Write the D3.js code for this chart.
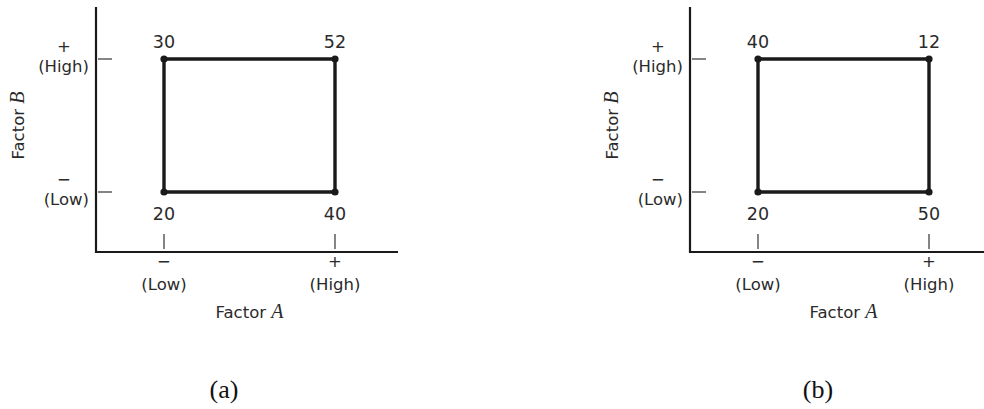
<!DOCTYPE html>
<html>
<head>
<meta charset="utf-8">
<script src="https://cdn.jsdelivr.net/npm/d3@7"></script>
<style>
  body { margin: 0; background: #fff; }
  svg { display: block; }
  .lbl { font-family: 'DejaVu Sans', sans-serif; font-size: 16.5px; fill: #2a2a2a; }
  .val { font-family: 'DejaVu Sans', sans-serif; font-size: 17.5px; fill: #2a2a2a; }
  .cap { font-family: 'Liberation Serif', serif; font-size: 26px; fill: #111; }
</style>
</head>
<body>
<div class="render"></div>
<script>
'use strict';

// factor levels and their tick signs
var levels = ['Low', 'High'];
var signs = ['\u2212', '+'];
// corners of the square: level of A, level of B
var cornerA = ['Low', 'High', 'Low', 'High'];
var cornerB = ['Low', 'Low', 'High', 'High'];
// response at each corner
var respA = [20, 40, 30, 52];
var respB = [20, 50, 40, 12];
var captions = ['(a)', '(b)'];
var panelX = [0, 594];

var w = 984, h = 409;
var svg = d3.select('.render').append('svg').attr('width', w).attr('height', h);

function panel(i, resp) {
   var g = svg.append('g').attr('transform', 'translate(' + panelX[i] + ',0)');
   var x = d3.scalePoint().domain(levels).range([164, 335]);
   var y = d3.scalePoint().domain(levels).range([192, 59]);
   var x0 = 96, y0 = 252;

   // axes
   g.append('line').attr('x1', x0).attr('x2', x0).attr('y1', 7).attr('y2', y0 + 1)
      .attr('stroke', '#1a1a1a').attr('stroke-width', 2.2);
   g.append('line').attr('x1', x0 - 1).attr('x2', x0 + 302).attr('y1', y0).attr('y2', y0)
      .attr('stroke', '#1a1a1a').attr('stroke-width', 2.2);

   // ticks (drawn inside, with a small gap from the axis)
   g.selectAll('.ty').data(levels).enter().append('line')
      .attr('x1', x0 + 2).attr('x2', x0 + 16)
      .attr('y1', function (d) { return y(d); }).attr('y2', function (d) { return y(d); })
      .attr('stroke', '#333').attr('stroke-width', 1.2);
   g.selectAll('.tx').data(levels).enter().append('line')
      .attr('x1', function (d) { return x(d); }).attr('x2', function (d) { return x(d); })
      .attr('y1', y0 - 18).attr('y2', y0 - 3)
      .attr('stroke', '#333').attr('stroke-width', 1.2);

   // tick labels
   levels.forEach(function (d, k) {
      g.append('text').attr('class', 'lbl').attr('x', 64).attr('y', y(d) - 7)
         .attr('text-anchor', 'middle').text(signs[k]);
      g.append('text').attr('class', 'lbl').attr('x', 89).attr('y', y(d) + 13)
         .attr('text-anchor', 'end').text('(' + d + ')');
      g.append('text').attr('class', 'lbl').attr('x', x(d)).attr('y', y0 + 15)
         .attr('text-anchor', 'middle').text(signs[k]);
      g.append('text').attr('class', 'lbl').attr('x', x(d)).attr('y', y0 + 38)
         .attr('text-anchor', 'middle').text('(' + d + ')');
   });

   // axis titles
   var tA = g.append('text').attr('class', 'lbl').attr('x', (x('Low') + x('High')) / 2).attr('y', 318)
      .attr('text-anchor', 'middle');
   tA.append('tspan').text('Factor ');
   tA.append('tspan').style('font-family', 'Liberation Serif, serif').style('font-style', 'italic')
      .style('font-size', '20px').text('A');
   var tB = g.append('text').attr('class', 'lbl').attr('text-anchor', 'middle')
      .attr('transform', 'translate(24,' + (y('Low') + y('High')) / 2 + ')rotate(-90)');
   tB.append('tspan').text('Factor ');
   tB.append('tspan').style('font-family', 'Liberation Serif, serif').style('font-style', 'italic')
      .style('font-size', '20px').text('B');

   // square
   var order = [0, 1, 3, 2];
   var line = d3.line()
      .x(function (k) { return x(cornerA[k]); })
      .y(function (k) { return y(cornerB[k]); })
      .curve(d3.curveLinearClosed);
   g.append('path').attr('d', line(order)).attr('fill', 'none')
      .attr('stroke', '#1a1a1a').attr('stroke-width', 3.4);
   g.selectAll('circle').data(d3.range(4)).enter().append('circle')
      .attr('cx', function (k) { return x(cornerA[k]); })
      .attr('cy', function (k) { return y(cornerB[k]); })
      .attr('r', 3.6).attr('fill', '#1a1a1a');

   // responses
   g.selectAll('.val').data(d3.range(4)).enter().append('text').attr('class', 'val')
      .attr('x', function (k) { return x(cornerA[k]); })
      .attr('y', function (k) { return cornerB[k] === 'High' ? y('High') - 11 : y('Low') + 28; })
      .attr('text-anchor', 'middle')
      .text(function (k) { return resp[k]; });

   svg.append('text').attr('class', 'cap').attr('x', panelX[i] + 224).attr('y', 398)
      .attr('text-anchor', 'middle').text(captions[i]);
}

panel(0, respA);
panel(1, respB);
</script>
</body>
</html>
